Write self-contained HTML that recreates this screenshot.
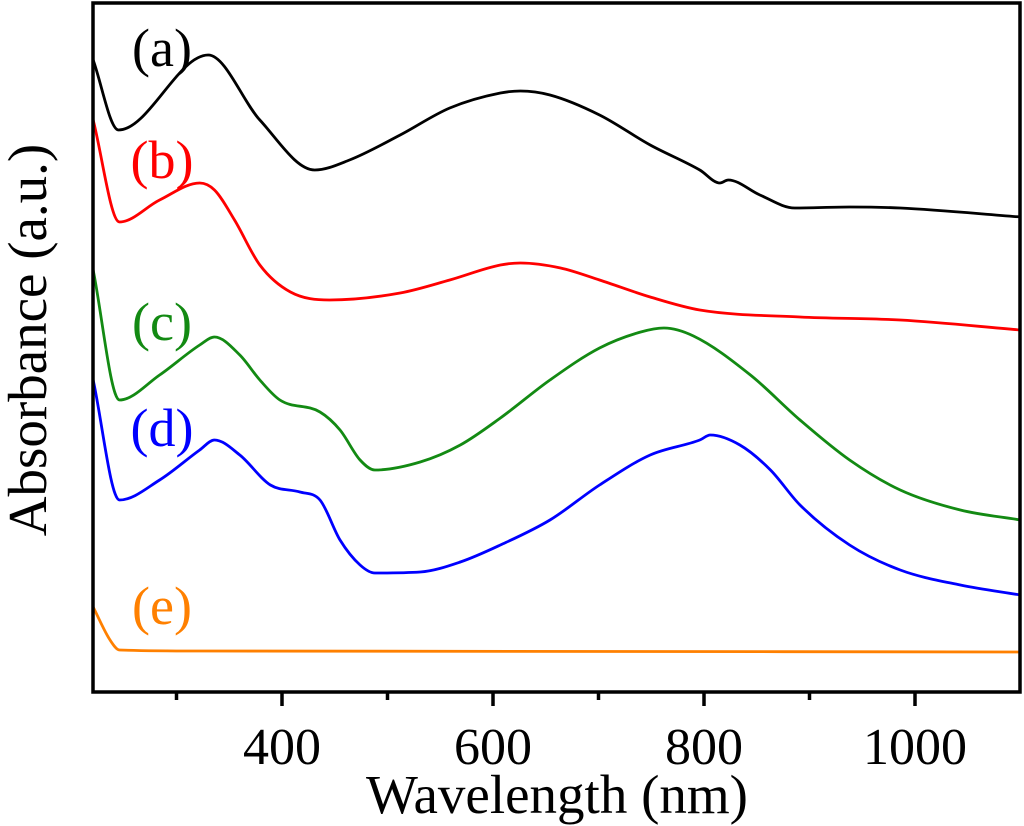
<!DOCTYPE html>
<html><head><meta charset="utf-8"><style>
body{margin:0;background:#fff}
svg{display:block;font-family:"Liberation Serif",serif}
</style></head><body>
<svg id="chart" width="1024" height="826" viewBox="0 0 1024 826">
<g id="series"></g>
<g id="axes"></g>
</svg>
<script>
const xTicks=[400,600,800,1000];
const xMinor=[300,500,700,900];
const nmA=[221,245,330,379,431,464,512,559,607,626,654,701,749,796,815,823,853,886,938,986,1100];
const absA=[6.32,5.62,6.37,5.72,5.22,5.32,5.57,5.84,5.99,6.01,5.97,5.77,5.47,5.22,5.09,5.12,4.97,4.84,4.85,4.84,4.75];
const nmB=[221,246,284,322,336,355,379,408,445,512,559,607,626,664,701,749,796,891,986,1100];
const absB=[5.72,4.70,4.92,5.09,5.02,4.72,4.27,4.00,3.92,3.99,4.12,4.27,4.29,4.24,4.12,3.95,3.82,3.75,3.72,3.62];
const nmC=[221,246,284,322,336,360,379,398,436,455,474,488,531,569,607,654,701,740,762,790,844,891,938,986,1043,1100];
const absC=[4.22,2.92,3.17,3.47,3.55,3.37,3.12,2.92,2.80,2.62,2.32,2.22,2.30,2.47,2.74,3.12,3.44,3.60,3.64,3.56,3.17,2.72,2.32,2.02,1.82,1.72];
const nmD=[221,246,284,322,336,360,389,417,436,455,474,488,531,569,607,654,701,749,796,806,834,863,891,938,986,1043,1100];
const absD=[3.12,1.92,2.12,2.42,2.52,2.37,2.07,2.00,1.92,1.52,1.27,1.19,1.20,1.30,1.47,1.72,2.07,2.37,2.52,2.57,2.47,2.22,1.87,1.47,1.22,1.07,0.97];
const nmE=[221,237,246,322,1100];
const absE=[0.85,0.52,0.42,0.41,0.40];
const seriesLabels=["(a)","(b)","(c)","(d)","(e)"];

const NS="http://www.w3.org/2000/svg";
const X0=93,X1=1020,Y0=3,Y1=692;
const xs=v=>282+(v-400)*1.055;
const ys=v=>692-v*100;
function mk(t,a,p){const e=document.createElementNS(NS,t);for(const k in a)e.setAttribute(k,a[k]);p.appendChild(e);return e;}
function path(nm,ab){
  const P=nm.map((n,i)=>[xs(n),ys(ab[i])]);
  const n=P.length,d=[],m=[];
  for(let i=0;i<n-1;i++)d.push((P[i+1][1]-P[i][1])/(P[i+1][0]-P[i][0]));
  m[0]=d[0];m[n-1]=d[n-2];
  for(let i=1;i<n-1;i++){m[i]=(d[i-1]*d[i]<=0)?0:(d[i-1]+d[i])/2;}
  for(let i=0;i<n-1;i++){
    if(d[i]===0){m[i]=0;m[i+1]=0;continue;}
    const a=m[i]/d[i],b=m[i+1]/d[i],s=a*a+b*b;
    if(s>9){const t=3/Math.sqrt(s);m[i]=t*a*d[i];m[i+1]=t*b*d[i];}
  }
  let s=`M${P[0][0]},${P[0][1]}`;
  for(let i=0;i<n-1;i++){
    const h=(P[i+1][0]-P[i][0])/3;
    s+=`C${P[i][0]+h},${P[i][1]+m[i]*h} ${P[i+1][0]-h},${P[i+1][1]-m[i+1]*h} ${P[i+1][0]},${P[i+1][1]}`;
  }
  return s;
}
const sg=document.getElementById('series'),ag=document.getElementById('axes');
const defs=[[nmA,absA,"#000","a",48],[nmB,absB,"#ff0000","b",160],[nmC,absC,"#138a13","c",322],[nmD,absD,"#0000ff","d",428],[nmE,absE,"#ff8000","e",606]];
defs.forEach((s,i)=>{
  const p=mk('path',{d:path(s[0],s[1]),fill:'none',stroke:s[2],'stroke-width':2.8,'stroke-linejoin':'round'},sg);
  
  
  const t=mk('text',{x:162,y:s[4]+18,'text-anchor':'middle','font-size':54,fill:s[2]},sg);
  t.textContent=seriesLabels[i];
  
  
});
const f=mk('rect',{x:X0,y:Y0,width:X1-X0,height:Y1-Y0,fill:'none',stroke:'#000','stroke-width':3.5},ag);


xTicks.forEach(v=>{
  const l=mk('line',{x1:xs(v),x2:xs(v),y1:Y1,y2:Y1+14,stroke:'#000','stroke-width':3.5},ag);
  
  
  const t=mk('text',{x:xs(v),y:764,'text-anchor':'middle','font-size':52},ag);
  t.textContent=v;
  
  
});
xMinor.forEach(v=>{
  const l=mk('line',{x1:xs(v),x2:xs(v),y1:Y1,y2:Y1+8,stroke:'#000','stroke-width':3.5},ag);
  
  
});
const xt=mk('text',{x:557,y:813,'text-anchor':'middle','font-size':55},ag);
xt.textContent="Wavelength (nm)";


const yt=mk('text',{x:0,y:0,'text-anchor':'middle','font-size':55,transform:'translate(46,340) rotate(-90)'},ag);
yt.textContent="Absorbance (a.u.)";


</script>
</body></html>
